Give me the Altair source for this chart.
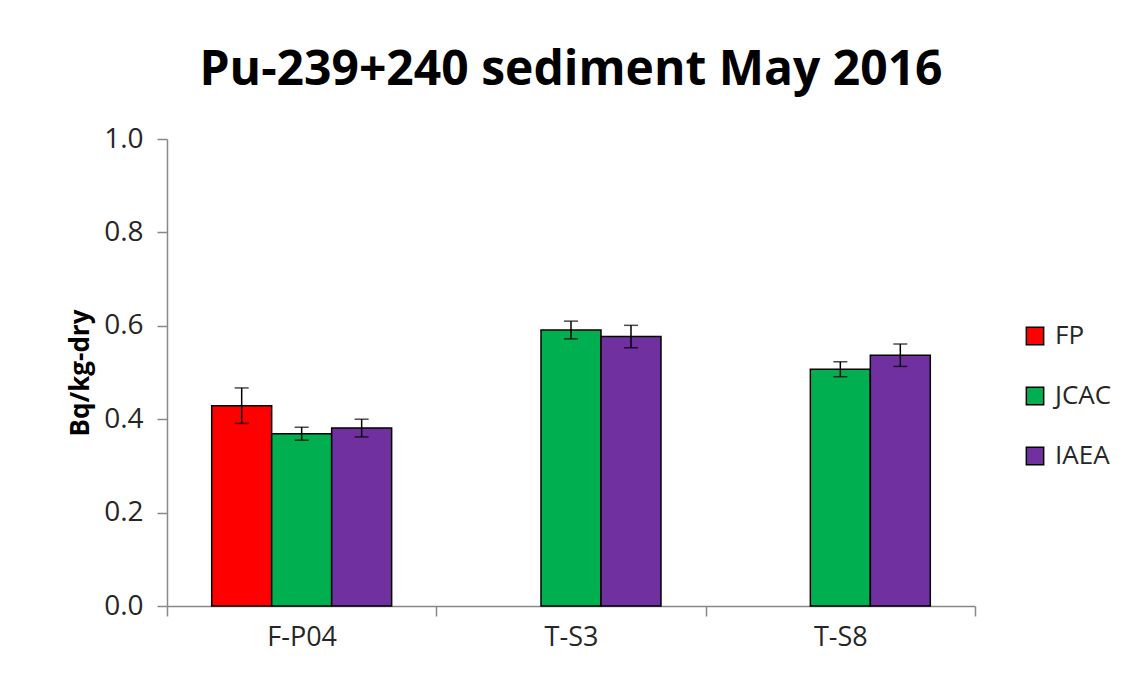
import altair as alt
import pandas as pd

sites = ["F-P04", "F-P04", "F-P04", "T-S3", "T-S3", "T-S8", "T-S8"]
labs = ["FP", "JCAC", "IAEA", "JCAC", "IAEA", "JCAC", "IAEA"]
values = [0.429, 0.369, 0.381, 0.591, 0.577, 0.507, 0.537]
errors = [0.038, 0.014, 0.019, 0.019, 0.024, 0.016, 0.024]

site_order = ["F-P04", "T-S3", "T-S8"]
lab_order = ["FP", "JCAC", "IAEA"]
lab_colors = ["#FF0000", "#00B050", "#7030A0"]

df = pd.DataFrame({"site": sites, "lab": labs, "value": values, "err": errors})
df["lo"] = df["value"] - df["err"]
df["hi"] = df["value"] + df["err"]

FONT = "Open Sans"

x = alt.X("site:N", sort=site_order,
          scale=alt.Scale(domain=site_order, paddingInner=0, paddingOuter=0),
          axis=alt.Axis(title=None, labelAngle=0, labelFontSize=27, labelColor="#262626",
                        labelFont=FONT, domainColor="#888888", tickColor="#888888",
                        tickSize=10, tickBand="extent", labelPadding=8, domainWidth=1.5,
                        tickWidth=1.5))
xo = alt.XOffset("lab:N", sort=lab_order,
                 scale=alt.Scale(domain=lab_order, paddingInner=0, paddingOuter=0.745))

y_scale = alt.Scale(domain=[0, 1.0], nice=False)

bars = alt.Chart(df).mark_bar(stroke="black", strokeWidth=1.5).encode(
    x=x,
    xOffset=xo,
    y=alt.Y("value:Q", scale=y_scale,
            axis=alt.Axis(title="Bq/kg-dry", values=[0, 0.2, 0.4, 0.6, 0.8, 1.0], format=".1f",
                          grid=False, labelFontSize=28, labelColor="#262626", labelFont=FONT,
                          titleFont=FONT, titleFontSize=26, titleFontWeight="bold",
                          titleColor="black", titlePadding=10,
                          domainColor="#888888", tickColor="#888888", tickSize=10,
                          labelPadding=14, domainWidth=1.5, tickWidth=1.5)),
    fill=alt.Fill("lab:N", sort=lab_order,
                  scale=alt.Scale(domain=lab_order, range=lab_colors),
                  legend=alt.Legend(title=None, orient="none", legendX=855, legendY=184,
                                    symbolType="square", symbolSize=300,
                                    symbolStrokeColor="black", symbolStrokeWidth=1.5,
                                    labelFontSize=26, labelFont=FONT, labelColor="#262626",
                                    rowPadding=34, labelOffset=7)),
)

rules = alt.Chart(df).mark_rule(color="black", strokeWidth=1.5).encode(
    x=alt.X("site:N", sort=site_order), xOffset=alt.XOffset("lab:N", sort=lab_order),
    y=alt.Y("lo:Q", scale=y_scale), y2="hi:Q",
)
caps_hi = alt.Chart(df).mark_tick(color="black", thickness=1.5, size=14, orient="horizontal").encode(
    x=alt.X("site:N", sort=site_order), xOffset=alt.XOffset("lab:N", sort=lab_order),
    y=alt.Y("hi:Q", scale=y_scale),
)
caps_lo = alt.Chart(df).mark_tick(color="black", thickness=1.5, size=14, orient="horizontal").encode(
    x=alt.X("site:N", sort=site_order), xOffset=alt.XOffset("lab:N", sort=lab_order),
    y=alt.Y("lo:Q", scale=y_scale),
)

chart = alt.layer(bars, rules, caps_hi, caps_lo).properties(
    width=808, height=467,
    background="white",
    title=alt.TitleParams("Pu-239+240 sediment May 2016", font=FONT, fontSize=48,
                          fontWeight="bold", color="black", anchor="middle", offset=30),
    autosize=alt.AutoSizeParams(type="none"),
    padding={"left": 159, "top": 131, "right": 140, "bottom": 60},
).configure_view(stroke=None, strokeWidth=0)

chart.save("out.html", embed_options={"renderer": "svg", "actions": False})
